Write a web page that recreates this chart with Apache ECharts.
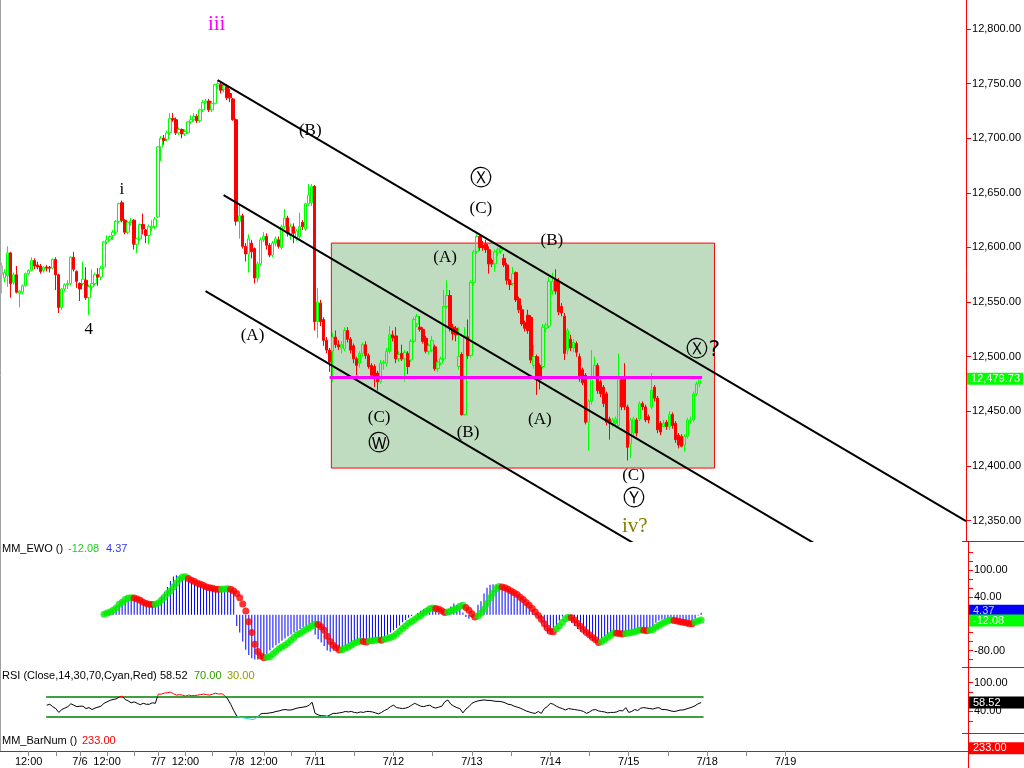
<!DOCTYPE html>
<html><head><meta charset="utf-8">
<script src="https://cdn.jsdelivr.net/npm/echarts@6/dist/echarts.min.js"></script>
<style>html,body{margin:0;padding:0;background:#fff}#c{width:1024px;height:768px}</style>
</head><body><div id="c"></div>
<script>
// ---------- DATA ----------
// [open, close, low, high] per bar (bar 0 .. 232)
const ohlc = [
[12583,12575,12558,12586],[12572,12577,12568,12580],[12574,12595,12564,12601],[12595,12567,12554,12596],[12568,12575,12566,12577],
[12575,12559,12558,12583],[12558,12560,12545,12561],[12559,12565,12557,12566],[12565,12576,12564,12577],[12576,12579,12575,12580],
[12579,12588,12578,12591],[12588,12583,12580,12590],[12584,12582,12580,12587],[12583,12578,12576,12585],[12579,12582,12577,12583],
[12582,12581,12578,12584],[12582,12581,12577,12583],[12581,12589,12580,12590],[12589,12575,12561,12591],[12575,12545,12540,12576],
[12545,12562,12543,12563],[12562,12566,12560,12567],[12566,12567,12562,12570],[12567,12591,12565,12592],[12591,12580,12578,12596],
[12578,12569,12563,12579],[12567,12562,12551,12568],[12567,12571,12565,12587],[12570,12554,12552,12582],[12554,12564,12538,12566],
[12564,12567,12560,12580],[12567,12575,12565,12577],[12575,12573,12565,12581],[12573,12581,12570,12583],[12582,12605,12580,12606],
[12605,12607,12603,12611],[12607,12610,12606,12611],[12611,12614,12607,12616],[12614,12624,12612,12625],[12624,12640,12622,12641],
[12641,12625,12623,12643],[12625,12614,12612,12626],[12614,12623,12612,12624],[12623,12624,12620,12627],[12625,12603,12598,12626],
[12603,12608,12595,12609],[12608,12621,12606,12622],[12621,12617,12612,12631],[12616,12611,12604,12617],[12611,12619,12603,12621],
[12618,12619,12615,12625],[12619,12626,12617,12628],[12628,12692,12627,12693],[12692,12700,12679,12702],[12700,12698,12694,12703],
[12699,12705,12697,12707],[12705,12718,12703,12723],[12718,12717,12715,12723],[12717,12705,12703,12719],[12705,12708,12703,12710],
[12708,12704,12700,12709],[12704,12706,12702,12708],[12705,12715,12704,12716],[12715,12717,12713,12721],[12717,12720,12715,12723],
[12720,12716,12714,12722],[12716,12726,12714,12727],[12726,12733,12724,12735],[12733,12734,12731,12736],[12734,12726,12724,12736],
[12726,12732,12724,12734],[12732,12749,12731,12750],[12748,12750,12745,12753],[12749,12744,12741,12751],[12745,12748,12742,12750],
[12747,12737,12735,12749],[12741,12737,12733,12745],[12736,12717,12716,12737],[12717,12624,12620,12718],[12624,12629,12608,12639],
[12629,12601,12599,12631],[12601,12594,12587,12604],[12594,12608,12577,12612],[12604,12596,12590,12607],[12599,12572,12567,12600],
[12572,12585,12568,12587],[12585,12607,12583,12609],[12607,12610,12605,12614],[12610,12602,12598,12613],[12602,12593,12591,12604],
[12593,12604,12591,12606],[12604,12608,12601,12610],[12607,12601,12599,12610],[12600,12619,12598,12621],[12619,12627,12617,12635],
[12627,12613,12610,12629],[12611,12619,12607,12622],[12619,12613,12604,12622],[12609,12615,12606,12617],[12610,12619,12608,12632],
[12623,12619,12616,12625],[12617,12640,12615,12641],[12640,12648,12638,12658],[12641,12656,12638,12658],[12656,12532,12524,12657],
[12532,12550,12517,12563],[12549,12532,12528,12552],[12534,12515,12510,12536],[12515,12506,12503,12518],[12506,12495,12486,12508],
[12505,12518,12477,12522],[12518,12511,12508,12524],[12511,12509,12506,12515],[12508,12511,12503,12514],[12507,12524,12505,12527],
[12524,12516,12513,12527],[12516,12506,12503,12518],[12510,12498,12494,12512],[12498,12492,12483,12500],[12494,12503,12490,12505],
[12503,12511,12500,12513],[12511,12501,12498,12514],[12501,12491,12489,12503],[12492,12483,12480,12494],[12491,12482,12472,12493],
[12485,12477,12469,12487],[12477,12494,12475,12497],[12494,12495,12488,12497],[12494,12505,12491,12508],[12505,12520,12503,12528],
[12520,12517,12514,12524],[12519,12498,12494,12527],[12498,12502,12495,12505],[12503,12498,12496,12511],[12498,12504,12477,12506],
[12503,12491,12484,12505],[12497,12514,12495,12516],[12514,12534,12512,12536],[12530,12537,12527,12539],[12527,12525,12523,12537],
[12525,12514,12512,12527],[12517,12505,12503,12519],[12505,12510,12502,12512],[12506,12515,12504,12519],[12509,12489,12487,12511],
[12489,12495,12486,12497],[12494,12498,12492,12500],[12498,12546,12496,12561],[12546,12556,12544,12570],[12556,12527,12523,12561],
[12527,12521,12515,12530],[12526,12520,12514,12528],[12491,12500,12488,12527],[12502,12447,12446,12504],[12447,12519,12446,12527],
[12518,12501,12498,12534],[12501,12568,12499,12570],[12568,12596,12565,12598],[12596,12610,12594,12612],[12610,12600,12597,12611],
[12602,12600,12597,12606],[12603,12598,12595,12607],[12598,12585,12576,12601],[12588,12585,12582,12590],[12585,12596,12578,12598],
[12595,12598,12592,12600],[12597,12599,12594,12602],[12590,12584,12582,12594],[12584,12570,12566,12586],[12570,12566,12561,12571],
[12567,12576,12565,12582],[12577,12552,12550,12578],[12553,12543,12540,12555],[12543,12530,12528,12547],[12531,12526,12523,12533],
[12538,12524,12521,12543],[12536,12497,12494,12538],[12492,12500,12489,12511],[12500,12482,12465,12502],[12492,12479,12470,12494],
[12491,12527,12489,12530],[12526,12529,12522,12531],[12528,12569,12526,12573],[12560,12569,12557,12577],[12570,12560,12557,12580],
[12569,12541,12538,12572],[12546,12540,12537,12549],[12537,12503,12497,12540],[12506,12524,12502,12526],[12516,12508,12505,12520],
[12508,12513,12504,12516],[12512,12504,12500,12514],[12500,12480,12477,12503],[12488,12476,12474,12490],[12483,12440,12438,12485],
[12440,12459,12414,12461],[12459,12479,12456,12506],[12482,12492,12480,12500],[12492,12469,12466,12494],[12477,12466,12463,12479],
[12472,12457,12454,12474],[12466,12440,12437,12468],[12443,12439,12424,12445],[12439,12442,12436,12444],[12439,12443,12436,12445],
[12437,12479,12434,12503],[12479,12454,12451,12481],[12480,12454,12451,12494],[12454,12417,12405,12456],[12420,12442,12407,12444],
[12430,12443,12428,12445],[12442,12430,12427,12444],[12443,12457,12441,12459],[12457,12454,12451,12459],[12454,12442,12440,12456],
[12445,12442,12439,12447],[12454,12469,12452,12485],[12472,12462,12459,12474],[12462,12433,12430,12464],[12439,12431,12428,12441],
[12436,12439,12436,12442],[12440,12436,12433,12442],[12436,12447,12433,12450],[12447,12437,12434,12449],[12439,12424,12421,12441],
[12428,12419,12416,12430],[12427,12418,12417,12429],[12419,12427,12413,12429],[12427,12442,12425,12444],[12441,12442,12439,12445],
[12442,12466,12440,12468],[12466,12475,12464,12477],[12475,12479.73,12472,12482]
];

// EWO signal dots (bars 34..232)
const ewoStart = 34;
const ewoSignal = [
1,4,6,10,15,23,28,34,37,38, 37,35,32,28,25,23,22.5,23,26,32,
39,47,53,62,70,79,84,84.5,81,77, 74,70,68,65,62,60,59,57,56.5,57,
57.5,58,57,53,47,38,24,8,-16,-40, -66,-82,-92,-96,-95,-94,-88,-82,-76,-72,
-68,-63,-57,-51,-45,-42,-37,-33,-29,-25, -21,-22,-27,-35,-48,-60,-68,-74,-79,-78,
-75,-72,-68,-64,-61,-59,-60,-61,-59,-58, -57,-56,-57,-55,-53,-51,-48,-43,-37,-31,
-25,-19,-15,-11,-6,-2,3,8,13,15, 14,12,9,5,6,8,11,14,19,21,
16,10,2,-5,-3,3,12,25,38,48, 58,63,62,60,57,53,49,45,39,34,
27,21,14,6,-2,-10,-20,-30,-37,-38, -32,-25,-17,-9,-6,-7,-12,-19,-26,-33,
-40,-45,-51,-56,-62,-60,-56,-51,-46,-41, -41.5,-42,-43,-42,-41,-40,-38,-36,-34,-35,
-36,-35,-33,-28,-24,-20,-17,-14,-12,-13, -14,-16,-17,-18,-20,-20.5,-17,-14,-12.08
];
// EWO histogram (bars 34..232)
const ewoHist = [
2,6,8,12,18,24,30,34,37,38, 36,34,32,28,25,23,24,26,30,42,
50,62,75,85,88,87,83,79,76,73, 70,66,64,63,62,61,60,59,58,57,
56,55,54,52,-25,-40,-60,-78,-90,-97, -100,-100,-98,-94,-88,-80,-74,-68,-64,-58,
-53,-48,-44,-40,-36,-32,-28,-25,-22,-20, -45,-55,-62,-70,-80,-83,-80,-76,-74,-72,
-70,-66,-62,-60,-58,-57,-57,-58,-60,-61, -60,-58,-56,-50,-45,-40,-35,-30,-24,-17,
-12,-7,-3,0,4,9,12,15,15,12, 8,4,1,3,10,18,25,22,15,5,
-5,-9,-7,0,22,30,47,60,67,68, 68,66,62,60,56,51,47,43,40,34,
26,20,12,4,-8,-20,-33,-42,-44,-36, -25,-13,-4,-1,-5,-18,-25,-32,-38,-43,
-48,-54,-58,-60,-58,-53,-48,-44,-40,-38, -38,-40,-41,-38,-37,-35,-33,-31,-31,-31,
-33,-32,-27,-18,-13,-11,-10,-9,-9,-10, -12,-13,-14,-15,-16,-14,-9,-2,4.37
];
// RSI (bars 15..232)
const rsiStart = 15;
const rsiValues = [
53,55,50,46,38,44,47,50,56,53, 50,51,51,46,48,44,47,49,51,57,
60,63,65,66,70,72,65,62,58,60, 57,54,57,55,55,58,57,76,76,78,
79,80,77,74,75,74,72,74,73,73, 74,75,76,75,74,76,78,76,77,73,
66,55,42,30.5,28,27,26,25,23,24, 29,35,36,36,37,38,40,41,43,44,
43,43,45,47,48,49,50,53,59,36, 33,31,31,30,33,36,36,37,38,40,
39,40,38,37,39,38,40,40,39,37, 35,38,42,45,50,53,48,47,46,47,
49,53,57,54,51,50,52,53,49,47, 49,51,60,64,55,51,48,46,37,45,
50,57,60,62,63,64,63,63,62,61, 61,60,58,55,54,51,49,47,44,41,
39,37,36,40,36,46,50,57,55,51, 48,46,43,46,45,44,43,42,40,36,
39,43,44,41,40,39,37,38,38,39, 42,41,48,38,40,44,42,47,48,47,
46,45,47,48,44,44,43,41,40,41, 43,43,45,47,49,52,56,58.52
];
const rsiLevels = [70, 30];
const barNum = [233];

// axis ticks / labels
const xLabelBars = [9, 26, 35, 52, 61, 78, 87, 104, 130, 156, 182, 208, 234, 260];
const xLabelText = ['12:00','7/6','12:00','7/7','12:00','7/8','12:00','7/11','7/12','7/13','7/14','7/15','7/18','7/19'];
const xMinorBars = [18, 44, 70, 96, 117, 143, 169, 195, 221, 247];
const priceTicks = [12350,12400,12450,12500,12550,12600,12650,12700,12750,12800];
const ewoLabels = [100, 40, -80];
const ewoTicks = [140,120,100,80,60,40,20,0,-20,-40,-60,-80,-100];
const rsiLabels = [100, 40];
const rsiTicks = [100, 80, 60, 40, 20];

// drawings (data coordinates: bar index, price)
const trendUpper = [[71.8, 12753.3], [320.5, 12349.5]];
const trendMiddle = [[73.8, 12648.0], [272, 12326]];
const trendLower = [[67.8, 12560.1], [212, 12326]];
const boxCorners = [[109.6, 12604], [236.9, 12398]];
const magentaLevel = 12481;
const magentaSpan = [109, 232.8];
const lastPrice = 12479.73;

const waveText = ['iii','i','4','(B)','(A)','\u24CD','(C)','(A)','(B)','(C)','\u24CC','(B)','(A)','\u24CD?','(C)','\u24CE','iv?'];
const waveBar = [71.5, 40.0, 29.0, 102.6, 83.4, 159.3, 159.3, 147.4, 182.9, 125.5, 125.5, 155.0, 178.9, 233.2, 210.0, 210.0, 210.4];
const wavePrice = [12804.6, 12653.5, 12524.4, 12707.5, 12518.9, 12662.7, 12636.1, 12591.2, 12606.8, 12444.7, 12420.0, 12430.1, 12442.0, 12506.1, 12390.7, 12369.6, 12344.9];

// ---------- CHART ----------
const F = 'Liberation Sans, Arial, sans-serif';
const FS = 'Liberation Serif, Times New Roman, serif';
const XMIN = -0.5, XMAX = 320.5;
const fmt2 = v => Number(v).toLocaleString('en-US', {minimumFractionDigits: 2, maximumFractionDigits: 2});

const candleData = ohlc.map((r, i) => {
  const item = {value: [i, r[0], r[1], r[2], r[3]]};
  if (i === 0) item.itemStyle = {color: '#c0c0c0', color0: '#c0c0c0', borderColor: '#b0b0b0', borderColor0: '#b0b0b0'};
  return item;
});
const ewoSigData = ewoSignal.map((v, i) => [ewoStart + i, v]);
const ewoHistData = ewoHist.map((v, i) => [ewoStart + i, v]);
const rsiData = rsiValues.map((v, i) => [rsiStart + i, v]);
const lastBar = ohlc.length - 1;

const isCircled = t => /[\u24CC-\u24CE]/.test(t);
const waveStyle = t => {
  if (t === 'iii') return {color: '#ff00ff', fontSize: 21, fontFamily: FS};
  if (t === 'iv?') return {color: '#8a7d00', fontSize: 21, fontFamily: FS};
  if (isCircled(t)) return {color: '#000000', fontSize: 22, fontFamily: 'DejaVu Sans, sans-serif'};
  return {color: '#000000', fontSize: 17, fontFamily: FS};
};
const waveData = waveText.map((t, i) => ({
  value: [waveBar[i], wavePrice[i]], name: t,
  label: Object.assign({show: true, position: 'inside', formatter: t, textBorderWidth: 0, textShadowBlur: 0, opacity: 1}, waveStyle(t))
}));

const boxLabel = (text, bg, fg) => ({
  show: true, position: 'end', distance: 1, formatter: text,
  backgroundColor: bg, color: fg, fontSize: 11, fontFamily: F,
  padding: [1, 4, 0, 4], width: 48, align: 'left'
});
const hiddenLine = {color: 'rgba(0,0,0,0)', width: 0};

const xAxisBase = gi => ({
  type: 'value', gridIndex: gi, min: XMIN, max: XMAX, show: false,
  splitLine: {show: false}
});
const xAxes = [xAxisBase(0), xAxisBase(1), xAxisBase(2), {
  type: 'value', gridIndex: 3, min: XMIN, max: XMAX,
  splitLine: {show: false},
  axisLine: {show: true, onZero: false, lineStyle: {color: '#ff0000', width: 1}},
  axisTick: {show: true, customValues: xLabelBars.concat(xMinorBars), length: 5, lineStyle: {color: '#888'}},
  axisLabel: {show: true, customValues: xLabelBars, margin: 5, color: '#000', fontSize: 11, fontFamily: F,
    formatter: v => { const k = xLabelBars.indexOf(Math.round(v)); return k >= 0 ? xLabelText[k] : ''; }}
}];

const yAxisRight = (gi, min, max, labels, ticks, fmt) => ({
  type: 'value', gridIndex: gi, position: 'right', min: min, max: max, scale: true,
  splitLine: {show: false},
  axisLine: {show: true, onZero: false, lineStyle: {color: '#ff0000', width: 1}},
  axisTick: {show: ticks.length > 0, customValues: ticks, length: 5, lineStyle: {color: '#ff0000'}},
  axisLabel: {show: labels.length > 0, customValues: labels, margin: 6, color: '#000', fontSize: 11, fontFamily: F, formatter: fmt}
});
const yAxes = [
  yAxisRight(0, 12331.2, 12826.6, priceTicks, priceTicks, v => fmt2(v)),
  yAxisRight(1, -119, 162.2, ewoLabels, ewoTicks, v => fmt2(v)),
  yAxisRight(2, -4.8, 130.4, rsiLabels, rsiTicks, v => fmt2(v)),
  yAxisRight(3, 230, 250, [], [], v => '')
];

const titleItem = (text, left, top, color) => ({
  text: text, left: left, top: top, padding: 0,
  textStyle: {color: color, fontSize: 11, fontWeight: 'normal', fontFamily: F}
});

const option = {
  animation: false,
  backgroundColor: '#ffffff',
  title: [
    titleItem('MM_EWO ()', 2, 543, '#000'),
    titleItem(fmt2(ewoSignal[ewoSignal.length - 1]), 68, 543, '#22cc22'),
    titleItem(fmt2(ewoHist[ewoHist.length - 1]), 106, 543, '#3333ff'),
    titleItem('RSI (Close,14,30,70,Cyan,Red)', 2, 670, '#000'),
    titleItem(fmt2(rsiValues[rsiValues.length - 1]), 160, 670, '#000'),
    titleItem(fmt2(rsiLevels[0]), 194, 670, '#339900'),
    titleItem(fmt2(rsiLevels[1]), 227, 670, '#8f9a00'),
    titleItem('MM_BarNum ()', 2, 735, '#000'),
    titleItem(fmt2(barNum[0]), 82, 735, '#ff0000')
  ],
  grid: [
    {left: 0, top: 0, width: 968, height: 541},
    {left: 0, top: 542, width: 968, height: 126},
    {left: 0, top: 668, width: 968, height: 65},
    {left: 0, top: 733, width: 968, height: 18}
  ],
  xAxis: xAxes,
  yAxis: yAxes,
  visualMap: [{
    show: false, type: 'piecewise', seriesIndex: 7, dimension: 1,
    pieces: [{lt: 30, color: '#00e5ee'}, {gte: 30, lte: 70, color: '#000000'}, {gt: 70, color: '#ff0000'}]
  }],
  series: [
    { // 0 candles
      type: 'candlestick', xAxisIndex: 0, yAxisIndex: 0, z: 2,
      encode: {x: 0, y: [1, 2, 3, 4]},
      barWidth: 3,
      itemStyle: {color: 'rgba(0,0,0,0)', color0: '#ff0000', borderColor: '#00ff00', borderColor0: '#ff0000', borderWidth: 1},
      data: candleData,
      markArea: {
        silent: true, z: 1,
        itemStyle: {color: '#c0dcc0', opacity: 1, borderColor: '#ff0000', borderWidth: 1},
        label: {show: false},
        data: [[{coord: boxCorners[0]}, {coord: boxCorners[1]}]]
      },
      markLine: {
        silent: true, symbol: ['none', 'none'], z: 5,
        label: {show: false},
        data: [
          [{coord: [magentaSpan[0], magentaLevel], lineStyle: {color: '#ff00ff', width: 3, type: 'solid'}, label: {show: false}},
           {coord: [magentaSpan[1], magentaLevel]}],
          {yAxis: lastPrice, lineStyle: hiddenLine, label: boxLabel(fmt2(lastPrice), '#00ff00', '#ffffff')}
        ]
      }
    },
    { type: 'line', xAxisIndex: 0, yAxisIndex: 0, z: 3, data: trendUpper, symbol: 'none', lineStyle: {color: '#000', width: 2}, silent: true },
    { type: 'line', xAxisIndex: 0, yAxisIndex: 0, z: 3, data: trendMiddle, symbol: 'none', lineStyle: {color: '#000', width: 2}, silent: true },
    { type: 'line', xAxisIndex: 0, yAxisIndex: 0, z: 3, data: trendLower, symbol: 'none', lineStyle: {color: '#000', width: 2}, silent: true },
    { // 4 wave labels
      type: 'scatter', xAxisIndex: 0, yAxisIndex: 0, z: 6, symbolSize: 1,
      itemStyle: {color: 'rgba(0,0,0,0)'}, data: waveData, silent: true
    },
    { // 5 EWO histogram
      type: 'bar', xAxisIndex: 1, yAxisIndex: 1, barWidth: 1, z: 2,
      itemStyle: {color: '#0000ff'}, data: ewoHistData, silent: true,
      markLine: {
        silent: true, symbol: ['none', 'none'], z: 5,
        data: [{yAxis: 8.5, lineStyle: hiddenLine, label: boxLabel(fmt2(ewoHist[ewoHist.length - 1]), '#0000ff', '#bcd8ff')}]
      }
    },
    { // 6 EWO dots
      type: 'scatter', xAxisIndex: 1, yAxisIndex: 1, z: 3, symbolSize: 7,
      itemStyle: {color: p => (p.dataIndex === 0 || ewoSignal[p.dataIndex] >= ewoSignal[p.dataIndex - 1]) ? '#00ee00' : '#ff0000'},
      data: ewoSigData, silent: true,
      markLine: {
        silent: true, symbol: ['none', 'none'], z: 6,
        data: [{yAxis: -13, lineStyle: hiddenLine, label: boxLabel(fmt2(ewoSignal[ewoSignal.length - 1]), '#00ff00', '#ffffff')}]
      }
    },
    { // 7 RSI
      type: 'line', xAxisIndex: 2, yAxisIndex: 2, z: 3, symbol: 'none',
      lineStyle: {width: 1}, data: rsiData, silent: true,
      markLine: {
        silent: true, symbol: ['none', 'none'], z: 2,
        label: {show: false},
        data: [
          [{coord: [rsiStart - 0.2, rsiLevels[0]], lineStyle: {color: '#008000', width: 1.5, type: 'solid'}}, {coord: [lastBar + 0.8, rsiLevels[0]]}],
          [{coord: [rsiStart - 0.2, rsiLevels[1]], lineStyle: {color: '#008000', width: 1.5, type: 'solid'}}, {coord: [lastBar + 0.8, rsiLevels[1]]}],
          {yAxis: rsiValues[rsiValues.length - 1], lineStyle: hiddenLine, label: boxLabel(fmt2(rsiValues[rsiValues.length - 1]), '#000000', '#ffffff')}
        ]
      }
    },
    { // 8 BarNum
      type: 'line', xAxisIndex: 3, yAxisIndex: 3, symbol: 'none', lineStyle: {opacity: 0},
      data: barNum.map(v => [lastBar, v]), silent: true,
      markLine: {
        silent: true, symbol: ['none', 'none'], z: 5,
        data: [{yAxis: barNum[0], lineStyle: hiddenLine, label: boxLabel(fmt2(barNum[0]), '#ff0000', '#ffffff')}]
      }
    }
  ],
  graphic: [
    {type: 'line', shape: {x1: 0.5, y1: 0, x2: 0.5, y2: 751}, style: {stroke: '#a0a0a0', lineWidth: 1}, silent: true},
    {type: 'line', shape: {x1: 962, y1: 541.5, x2: 1024, y2: 541.5}, style: {stroke: '#ff0000', lineWidth: 1}, silent: true},
    {type: 'line', shape: {x1: 962, y1: 667.5, x2: 1024, y2: 667.5}, style: {stroke: '#ff0000', lineWidth: 1}, silent: true},
    {type: 'line', shape: {x1: 962, y1: 733.5, x2: 1024, y2: 733.5}, style: {stroke: '#ff0000', lineWidth: 1}, silent: true},
    {type: 'line', shape: {x1: 968, y1: 751.5, x2: 1024, y2: 751.5}, style: {stroke: '#ff0000', lineWidth: 1}, silent: true},
    {type: 'line', shape: {x1: 968.5, y1: 751, x2: 968.5, y2: 768}, style: {stroke: '#ff0000', lineWidth: 1}, silent: true}
  ]
};

const chart = echarts.init(document.getElementById('c'), null, {renderer: 'canvas', width: 1024, height: 768});
chart.setOption(option);
</script>
</body></html>
